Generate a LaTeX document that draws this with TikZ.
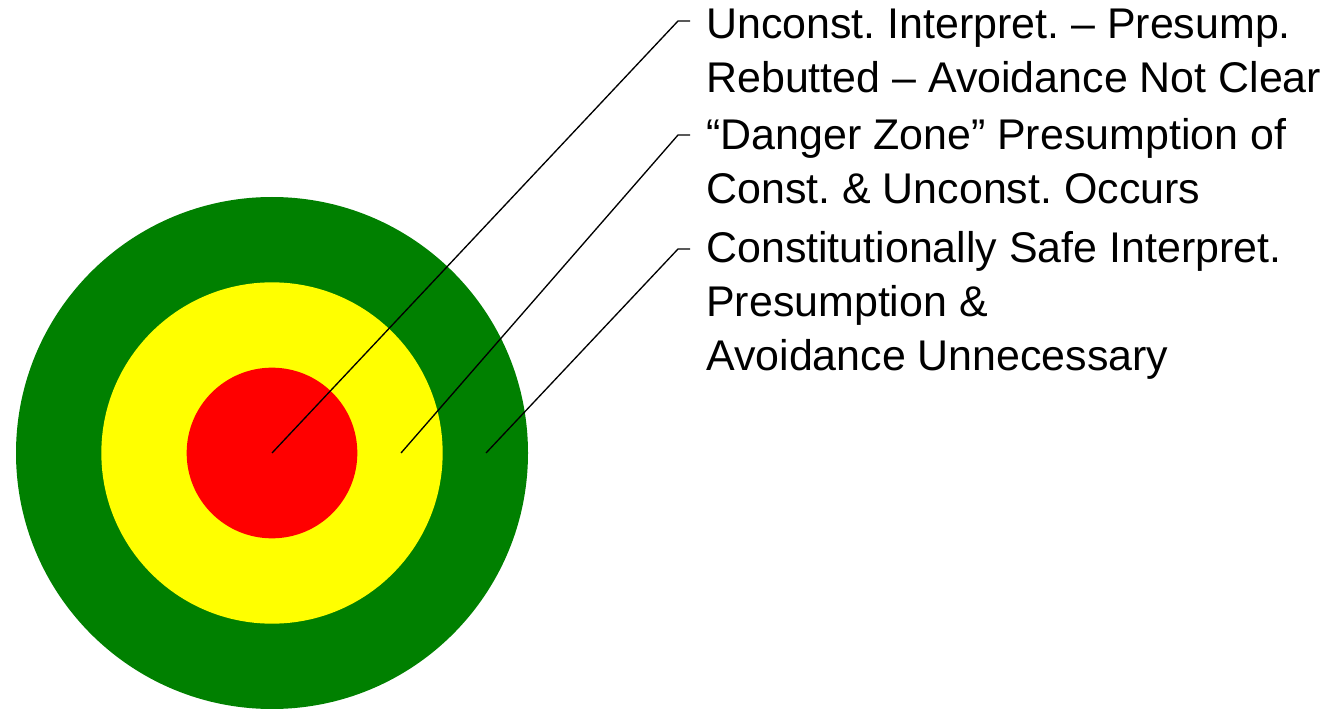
\documentclass[tikz,border=0pt]{standalone}
\usepackage{fontspec}
\setmainfont{Liberation Sans}
\usetikzlibrary{positioning}
\definecolor{tgreen}{HTML}{008000}
\definecolor{tyellow}{HTML}{FFFF00}
\definecolor{tred}{HTML}{FF0000}
\frenchspacing

\begin{document}
\begin{tikzpicture}[x=0.75pt, y=-0.75pt,
  ring/.style={circle, inner sep=0pt, draw=none},
  zonetext/.style={anchor=base west, align=left, inner sep=0pt,
    font=\fontsize{32.2}{40.5}\selectfont},
  leader/.style={draw=black, line width=1pt}]
\useasboundingbox (0,0) rectangle (1324,709);
% target rings
\node[ring, fill=tgreen, minimum size=384pt] (outer) at (272,453) {};
\node[ring, fill=tyellow, minimum size=256pt] (middle) at (272,453) {};
\node[ring, fill=tred, minimum size=128pt] (inner) at (272,453) {};
% labels (base = last line)
\node[zonetext] (t-inner) at (706,93) {Unconst. Interpret. -- Presump.\\Rebutted -- Avoidance Not Clear};
\node[zonetext] (t-middle) at (706,204) {``Danger Zone'' Presumption of\\Const. \& Unconst. Occurs};
\node[zonetext] (t-outer) at (706,370) {Constitutionally Safe Interpret.\\Presumption \&\\Avoidance Unnecessary};
% leader ends
\coordinate (p-middle) at (401,453);
\coordinate (p-outer) at (486,453);
\coordinate (k-inner) at (678,21);
\coordinate (k-middle) at (678,135);
\coordinate (k-outer) at (678,249);
\draw[leader] (inner.center) -- (k-inner) -- ++(12,0);
\draw[leader] (p-middle) -- (k-middle) -- ++(12,0);
\draw[leader] (p-outer) -- (k-outer) -- ++(12,0);
\end{tikzpicture}
\end{document}
